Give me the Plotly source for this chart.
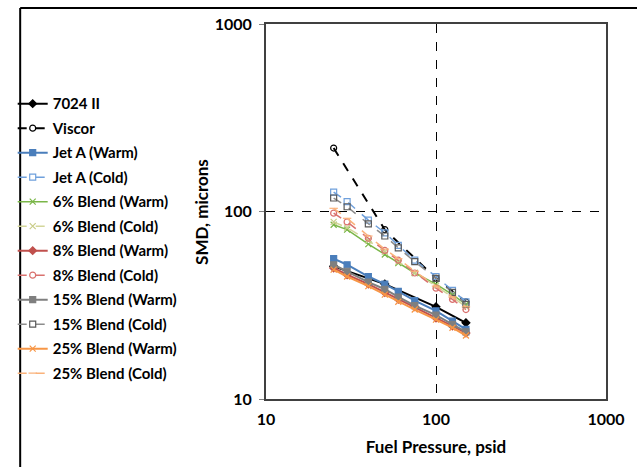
import plotly.graph_objects as go

# Fuel pressure settings (psid)
p_ref = [25, 50, 100, 150]
p_blend = [25, 30, 40, 50, 60, 75, 100, 125, 150]

# Sauter mean diameter (microns)
smd_7024 = [51, 41, 31, 25.5]
smd_viscor = [218, 80, 44, 33]
smd_jeta_warm = [56, 52, 45, 41, 37.5, 33.5, 29.5, 26, 23.5]
smd_jeta_cold = [127, 113, 90, 77, 66, 55, 45, 38, 33]
smd_b6_warm = [85, 80, 67, 59, 53, 47, 41, 36, 32]
smd_b6_cold = [88, 82, 70, 61, 54, 47, 40, 35, 31]
smd_b8_warm = [50, 46, 41, 37, 34, 31, 27, 24.5, 22.5]
smd_b8_cold = [98, 88, 72, 62, 55, 47, 39, 34, 30]
smd_b15_warm = [52, 48, 42, 38.5, 35, 31.5, 28, 25, 22.8]
smd_b15_cold = [118, 106, 86, 74, 64, 54, 44, 37, 32]
smd_b25_warm = [49, 45, 40, 36, 33, 30, 26.5, 24, 21.8]
smd_b25_cold = [104, 92, 74, 63, 56, 48, 40, 35, 31]

series = [
    ("7024 II", p_ref, smd_7024, "#000000", "solid", 2, "diamond", "#000000"),
    ("Viscor", p_ref, smd_viscor, "#000000", "dash", 2, "circle-open", "#000000"),
    ("Jet A (Warm)", p_blend, smd_jeta_warm, "#4A7EBB", "solid", 2, "square", "#4A7EBB"),
    ("Jet A (Cold)", p_blend, smd_jeta_cold, "#6FA0DC", "dash", 1.5, "square-open", "#6FA0DC"),
    ("6% Blend (Warm)", p_blend, smd_b6_warm, "#7AB648", "solid", 1.5, "x-thin-open", "#7AB648"),
    ("6% Blend (Cold)", p_blend, smd_b6_cold, "#D3D69A", "dash", 1.5, "x-thin-open", "#C9CC88"),
    ("8% Blend (Warm)", p_blend, smd_b8_warm, "#C0504D", "solid", 2, "diamond", "#C0504D"),
    ("8% Blend (Cold)", p_blend, smd_b8_cold, "#D9716E", "dash", 1.5, "circle-open", "#D9716E"),
    ("15% Blend (Warm)", p_blend, smd_b15_warm, "#7F7F7F", "solid", 2, "square", "#7F7F7F"),
    ("15% Blend (Cold)", p_blend, smd_b15_cold, "#8C8C8C", "dash", 1.5, "square-open", "#595959"),
    ("25% Blend (Warm)", p_blend, smd_b25_warm, "#F79646", "solid", 2, "x-thin-open", "#F79646"),
    ("25% Blend (Cold)", p_blend, smd_b25_cold, "#FAB27A", "dash", 1.5, "line-ew-open", "#FAB27A"),
]

fig = go.Figure()
for i, (name, x, y, col, dash, w, sym, mcol) in enumerate(series):
    fig.add_trace(go.Scatter(
        x=x, y=y, name=name, mode="lines+markers",
        line=dict(color=col, dash=dash, width=w),
        marker=dict(symbol=sym, size=6, color=mcol, line=dict(color=mcol, width=1.2)),
        legendgroup=str(i),
    ))

tick_font = dict(family="Lato", size=16, color="#000000", weight="bold")
title_font = dict(family="Lato", size=17, color="#000000", weight="bold")

fig.update_layout(
    width=637, height=467,
    margin=dict(l=263, r=20, t=24, b=68),
    paper_bgcolor="white", plot_bgcolor="white",
    font=dict(family="Lato", size=12, color="#000000"),
    showlegend=True,
    legend=dict(
        x=-0.745, y=0.831, xanchor="left", yanchor="top",
        font=dict(family="Lato", size=15, color="#000000", weight="bold"),
        tracegroupgap=2, itemwidth=30, bgcolor="rgba(0,0,0,0)",
    ),
    xaxis=dict(
        type="log", range=[1, 3],
        tickvals=[10, 100, 1000], ticktext=["10", "100", "1000"],
        tickfont=tick_font,
        showgrid=True, gridcolor="#000000", griddash="dash", gridwidth=1,
        showline=True, linecolor="#404040", linewidth=2, mirror=True,
        ticks="outside", ticklen=4, tickcolor="#ffffff",
        ticklabelstandoff=1,
        zeroline=False,
        title=dict(text="Fuel Pressure, psid", font=title_font, standoff=14),
    ),
    yaxis=dict(
        type="log", range=[1, 3],
        tickvals=[10, 100, 1000], ticktext=["10", "100", "1000"],
        tickfont=tick_font,
        showgrid=True, gridcolor="#000000", griddash="dash", gridwidth=1,
        showline=True, linecolor="#404040", linewidth=2, mirror=True,
        ticks="outside", ticklen=5, tickcolor="#808080",
        ticklabelstandoff=4,
        zeroline=False,
    ),
    annotations=[
        dict(text="SMD, microns", xref="paper", yref="paper",
             x=-0.19, y=0.5, xanchor="center", yanchor="middle",
             textangle=-90, showarrow=False, font=title_font),
    ],
    shapes=[
        dict(type="line", xref="paper", yref="paper",
             x0=-0.723, x1=1.1, y0=1.043, y1=1.043,
             line=dict(color="#000000", width=2)),
        dict(type="line", xref="paper", yref="paper",
             x0=-0.723, x1=-0.723, y0=1.043, y1=-0.2,
             line=dict(color="#000000", width=2)),
    ],
)

fig.write_html("out.html")
